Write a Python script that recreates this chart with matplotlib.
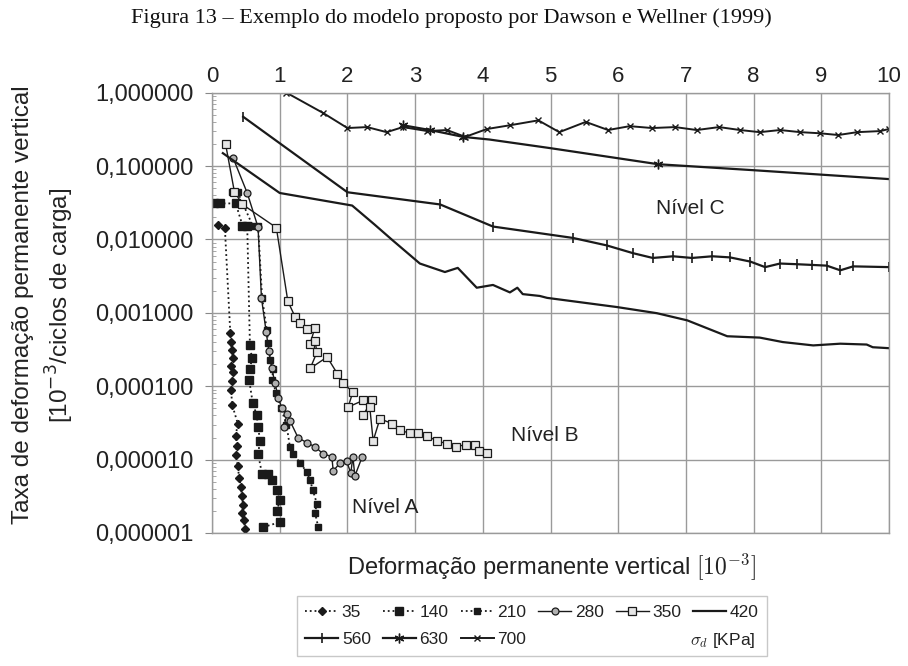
import numpy as np
import matplotlib
matplotlib.use("Agg")
import matplotlib.pyplot as plt
from matplotlib.lines import Line2D
from matplotlib.ticker import FixedLocator, LogLocator, NullFormatter

plt.rcParams["font.family"] = ["Liberation Sans", "DejaVu Sans"]

# ---- data (x: permanent strain [1e-3], y: strain rate) ----
x35 = [0.09, 0.19, 0.27, 0.28, 0.29, 0.31, 0.28, 0.31, 0.30, 0.28, 0.30, 0.38, 0.35,
       0.37, 0.35, 0.38, 0.40, 0.43, 0.44, 0.46, 0.44, 0.47, 0.49]
y35 = [1.57e-2, 1.43e-2, 5.3e-4, 4.0e-4, 3.1e-4, 2.4e-4, 1.9e-4, 1.55e-4, 1.17e-4,
       8.8e-5, 5.5e-5, 3.1e-5, 2.1e-5, 1.55e-5, 1.14e-5, 8.3e-6, 5.7e-6, 4.2e-6,
       3.2e-6, 2.4e-6, 1.9e-6, 1.5e-6, 1.15e-6]

x140 = [0.03, 0.12, 0.35, 0.45, 0.52, 0.56, 0.59, 0.56, 0.55, 0.60, 0.66, 0.68, 0.71,
        0.68, 0.74, 0.83, 0.89, 0.96, 1.00, 0.96, 1.00, 0.75]
y140 = [3.1e-2, 3.1e-2, 3.1e-2, 1.55e-2, 1.55e-2, 3.6e-4, 2.4e-4, 1.7e-4, 1.2e-4,
        6.0e-5, 4.0e-5, 2.8e-5, 1.8e-5, 1.2e-5, 6.3e-6, 6.3e-6, 5.2e-6, 3.8e-6,
        2.8e-6, 2.0e-6, 1.4e-6, 1.2e-6]

x210 = [0.30, 0.38, 0.60, 0.68, 0.74, 0.81, 0.83, 0.86, 0.90, 0.89, 0.95, 1.02, 1.10,
        1.15, 1.20, 1.30, 1.40, 1.45, 1.49, 1.55, 1.52, 1.57]
y210 = [4.4e-2, 4.4e-2, 1.55e-2, 1.55e-2, 1.6e-3, 5.8e-4, 3.9e-4, 2.3e-4, 1.7e-4,
        1.2e-4, 8.0e-5, 5.0e-5, 3.0e-5, 1.5e-5, 1.2e-5, 9.0e-6, 6.8e-6, 5.2e-6,
        3.8e-6, 2.5e-6, 1.9e-6, 1.2e-6]

x280 = [0.31, 0.52, 0.68, 0.73, 0.80, 0.84, 0.88, 0.93, 0.98, 1.03, 1.11, 1.06, 1.15,
        1.27, 1.40, 1.52, 1.64, 1.77, 1.79, 1.89, 1.99, 2.05, 2.08, 2.11, 2.22]
y280 = [1.3e-1, 4.3e-2, 1.47e-2, 1.6e-3, 5.5e-4, 3.0e-4, 1.8e-4, 1.1e-4, 7.0e-5,
        5.0e-5, 4.2e-5, 2.8e-5, 3.4e-5, 2.0e-5, 1.7e-5, 1.5e-5, 1.2e-5, 1.1e-5,
        7.0e-6, 9.0e-6, 9.5e-6, 6.5e-6, 1.1e-5, 6.0e-6, 1.1e-5]

x350 = [0.20, 0.33, 0.45, 0.95, 1.12, 1.23, 1.30, 1.40, 1.52, 1.45, 1.52, 1.55, 1.45,
        1.70, 1.85, 1.94, 2.08, 2.01, 2.23, 2.36, 2.23, 2.33, 2.38, 2.48, 2.66, 2.78,
        2.92, 3.04, 3.18, 3.32, 3.47, 3.60, 3.75, 3.88, 3.95, 4.06]
y350 = [2.0e-1, 4.5e-2, 3.0e-2, 1.45e-2, 1.44e-3, 8.7e-4, 7.2e-4, 6.0e-4, 6.3e-4,
        3.8e-4, 4.2e-4, 2.9e-4, 1.75e-4, 2.5e-4, 1.49e-4, 1.1e-4, 8.3e-5, 5.2e-5,
        6.4e-5, 6.4e-5, 4.0e-5, 5.2e-5, 1.8e-5, 3.6e-5, 3.1e-5, 2.5e-5, 2.3e-5,
        2.3e-5, 2.1e-5, 1.8e-5, 1.65e-5, 1.5e-5, 1.6e-5, 1.6e-5, 1.3e-5, 1.25e-5]

x420 = [0.16, 1.00, 2.07, 2.40, 2.67, 3.07, 3.44, 3.63, 3.91, 4.15, 4.40, 4.51, 4.59,
        4.84, 4.95, 5.98, 6.57, 7.02, 7.61, 8.09, 8.43, 8.88, 9.28, 9.67, 9.76, 10.0]
y420 = [1.5e-1, 4.3e-2, 2.9e-2, 1.6e-2, 9.7e-3, 4.7e-3, 3.6e-3, 4.1e-3, 2.2e-3,
        2.4e-3, 1.9e-3, 2.2e-3, 1.8e-3, 1.7e-3, 1.6e-3, 1.2e-3, 9.9e-4, 7.9e-4,
        4.8e-4, 4.6e-4, 4.0e-4, 3.6e-4, 3.8e-4, 3.7e-4, 3.4e-4, 3.3e-4]

x560 = [0.46, 2.00, 3.37, 4.15, 5.33, 5.83, 6.22, 6.51, 6.81, 7.09, 7.39, 7.65, 7.95,
        8.17, 8.39, 8.64, 8.86, 9.08, 9.28, 9.47, 10.0]
y560 = [4.7e-1, 4.4e-2, 3.0e-2, 1.5e-2, 1.05e-2, 8.3e-3, 6.5e-3, 5.6e-3, 5.9e-3,
        5.6e-3, 5.9e-3, 5.7e-3, 5.0e-3, 4.2e-3, 4.7e-3, 4.6e-3, 4.5e-3, 4.4e-3,
        3.8e-3, 4.3e-3, 4.2e-3]

x630 = [2.82, 3.22, 3.71, 4.10, 4.99, 6.59, 7.99, 10.0]
y630 = [0.36, 0.31, 0.25, 0.23, 0.176, 0.106, 0.088, 0.0665]

x700 = [1.10, 1.64, 2.00, 2.29, 2.58, 2.82, 3.18, 3.47, 3.74, 4.06, 4.40, 4.82, 5.13,
        5.52, 5.85, 6.17, 6.50, 6.84, 7.16, 7.49, 7.80, 8.09, 8.39, 8.69, 8.98, 9.25,
        9.53, 9.87, 10.0]
y700 = [1.0, 0.53, 0.33, 0.34, 0.29, 0.34, 0.30, 0.31, 0.25, 0.32, 0.36, 0.42, 0.29,
        0.40, 0.31, 0.35, 0.33, 0.34, 0.31, 0.34, 0.31, 0.29, 0.31, 0.29, 0.28, 0.265,
        0.29, 0.30, 0.32]

ytick_vals = [1e-6, 1e-5, 1e-4, 1e-3, 1e-2, 1e-1, 1.0]
ytick_labels = ["0,000001", "0,000010", "0,000100", "0,001000", "0,010000",
                "0,100000", "1,000000"]
xtick_vals = list(range(0, 11))

ink = "#1a1a1a"
txt = "#222222"

fig = plt.figure(figsize=(9.08, 6.66), dpi=100)
ax = fig.add_axes([0.2335, 0.1997, 0.7456, 0.6611])

l35, = ax.plot(x35, y35, ls=":", lw=1.3, color=ink, marker="D", ms=4.5, mfc=ink, mec=ink)
l140, = ax.plot(x140, y140, ls=":", lw=1.3, color=ink, marker="s", ms=6, mfc=ink, mec=ink)
l210, = ax.plot(x210, y210, ls=":", lw=1.3, color=ink, marker="s", ms=5, mfc=ink, mec=ink)
l280, = ax.plot(x280, y280, ls="-", lw=1.0, color=ink, marker="o", ms=5, mfc="#b0b0b0", mec=ink, mew=0.9)
l350, = ax.plot(x350, y350, ls="-", lw=1.0, color=ink, marker="s", ms=6, mfc="#e6e6e6", mec=ink, mew=0.9)
l420, = ax.plot(x420, y420, ls="-", lw=1.6, color=ink)
l560, = ax.plot(x560, y560, ls="-", lw=1.6, color=ink, marker="|", ms=7, mew=1.2)
l630, = ax.plot(x630, y630, ls="-", lw=1.6, color=ink, marker=(6, 2, 0), ms=7, mew=1.0,
                markevery=[0, 1, 2, 5])
l700, = ax.plot(x700, y700, ls="-", lw=1.4, color=ink, marker="x", ms=5, mew=1.0)

ax.set_yscale("log")
ax.set_xlim(0, 10)
ax.set_ylim(1e-6, 1.0)

ax.yaxis.set_major_locator(FixedLocator(ytick_vals))
ax.set_yticklabels(ytick_labels)
ax.yaxis.set_minor_locator(LogLocator(base=10, subs=np.arange(2, 10)))
ax.yaxis.set_minor_formatter(NullFormatter())
ax.xaxis.set_major_locator(FixedLocator(xtick_vals))
ax.xaxis.tick_top()
ax.set_xticklabels([str(v) for v in xtick_vals])

ax.tick_params(axis="y", which="major", direction="out", length=5, width=0.8,
               color="#888888", pad=8, labelsize=17, labelcolor=txt)
ax.tick_params(axis="y", which="minor", direction="in", length=3, width=0.6, color="#999999")
ax.tick_params(axis="x", which="major", length=0, pad=4, labelsize=16, labelcolor=txt)

ax.grid(True, which="major", color="#9a9a9a", lw=1.0)
for s in ax.spines.values():
    s.set_color("#9a9a9a")
    s.set_linewidth(1.0)

ax.text(2.56, 2.2e-6, "Nível A", fontsize=15, color=txt, ha="center", va="center")
ax.text(4.92, 2.1e-5, "Nível B", fontsize=15, color=txt, ha="center", va="center")
ax.text(7.06, 2.66e-2, "Nível C", fontsize=15, color=txt, ha="center", va="center")

fig.text(451 / 908, 1 - 18 / 666,
         "Figura 13 – Exemplo do modelo proposto por Dawson e Wellner (1999)",
         family="Liberation Serif", fontsize=16, color="#111111", ha="center", va="center")

fig.text(44 / 908, 1 - 305 / 666,
         "Taxa de deformação permanente vertical\n[10$^{-3}$/ciclos de carga]",
         rotation=90, fontsize=17.5, color=txt, ha="center", va="center",
         multialignment="center", linespacing=1.4, math_fontfamily="dejavusans")

fig.text(551 / 908, 1 - 567 / 666, r"Deformação permanente vertical $[10^{-3}]$",
         fontsize=17, color=txt, ha="center", va="center", math_fontfamily="cm")

blank = Line2D([], [], color="none")
handles = [l35, l560, l140, l630, l210, l700, l280, blank, l350, blank, l420, blank]
labels = ["35", "560", "140", "630", "210", "700", "280", "", "350", "", "420", ""]
leg = fig.legend(handles, labels, loc="center", bbox_to_anchor=(532 / 908, 1 - 626 / 666),
                 ncol=6, fontsize=12.5, handlelength=1.9, handletextpad=0.2,
                 columnspacing=0.7, frameon=True, fancybox=False, edgecolor="#bbbbbb",
                 borderpad=0.5, labelspacing=0.7, borderaxespad=0.0)
for t in leg.get_texts():
    t.set_color(txt)

fig.text(755 / 908, 1 - 641 / 666, r"$\sigma_d$ [KPa]", fontsize=12.5, color=txt,
         ha="right", va="center", math_fontfamily="cm", zorder=10)

fig.savefig("out.png", dpi=100)
